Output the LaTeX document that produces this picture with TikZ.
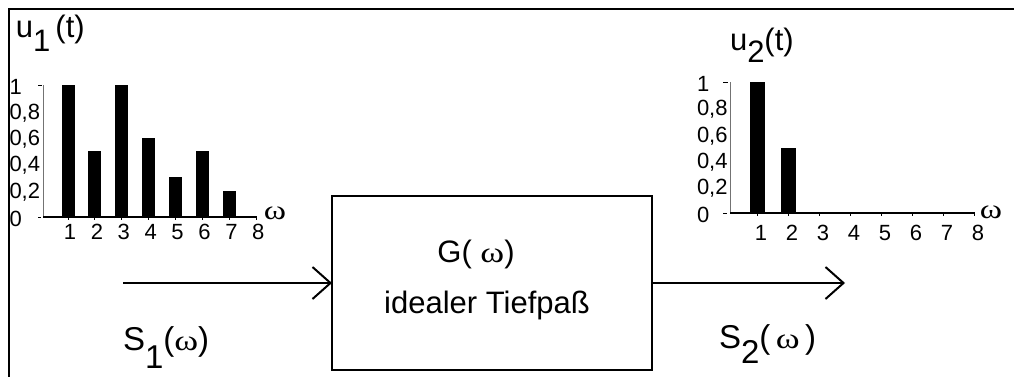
\documentclass[tikz,border=0pt]{standalone}
\usepackage{fontspec}
\setmainfont{Liberation Sans}
\newfontfamily\grk{Liberation Serif}
\newcommand{\wideomega}[1]{{\grk\fontsize{#1}{#1}\selectfont\scalebox{1.25}[1]{ω}}}
\usetikzlibrary{arrows.meta}
\begin{document}
\begin{tikzpicture}[x=1pt,y=-1pt,
  every node/.style={inner sep=0pt, outer sep=0pt},
  frame/.style={line width=2pt},
  bar/.style={fill=black, draw=none},
  yax/.style={draw=black!55, line width=1pt},
  xax/.style={line width=1.3pt},
  tk/.style={line width=0.9pt},
  ticklab/.style={font=\fontsize{22}{22}\selectfont},
  ulab/.style={font=\fontsize{31}{31}\selectfont, anchor=base west},
  slab/.style={font=\fontsize{33}{33}\selectfont, anchor=base west},
  boxtxt/.style={font=\fontsize{31}{31}\selectfont, anchor=base},
  blockbox/.style={draw, line width=2pt, minimum width=320pt, minimum height=174pt},
  signal/.style={line width=2pt, -{Straight Barb[length=18pt,width=32pt,line width=2pt]}},
]
\useasboundingbox (0,0) rectangle (1014,376);
% frame
\draw[frame] (9,377) -- (9,8.5) -- (1015,8.5);

% ---------- chart 1 ----------
\foreach \v [count=\k] in {1,0.5,1,0.6,0.3,0.5,0.2}
  \fill[bar] ({68+26.9*(\k-1)-6.5},217) rectangle ++(13,{-132*\v});
\draw[yax] (43,85) -- (43,217);
\draw[xax] (43,217) -- (257,217);
\foreach \k in {1,...,8} {
  \draw[tk] ({68+26.9*(\k-1)},217) -- ++(0,3);
  \node[ticklab, anchor=north] (xa\k) at ({70+26.9*(\k-1)},224) {\k};
}
\foreach \v/\t [count=\i] in {1/1,0.8/{0,8},0.6/{0,6},0.4/{0,4},0.2/{0,2},0/0}
  \node[ticklab, anchor=west] (ya\i) at (9.5,{217-132*\v+1.5}) {\t};
\draw[tk] (38,85) -- (42,85);
\draw[tk] (38,217) -- (41,217);
\node (wa) at (275,213) {\wideomega{27}};
\node[ulab] (u1) at (16,37) {u\raisebox{-14pt}{1}\hspace{5pt}(t)};

% ---------- chart 2 ----------
\foreach \v [count=\k] in {1,0.5}
  \fill[bar] ({757+31*(\k-1)-7},213) rectangle ++(15,{-131*\v});
\draw[yax] (730,82) -- (730,213);
\draw[xax] (730,213) -- (975,213);
\foreach \k in {1,...,8} {
  \draw[tk] ({757+31*(\k-1)},213) -- ++(0,3);
  \node[ticklab, anchor=north] (xb\k) at ({761+31*(\k-1)},225) {\k};
}
\foreach \v/\t [count=\i] in {1/1,0.8/{0,8},0.6/{0,6},0.4/{0,4},0.2/{0,2},0/0}
  \node[ticklab, anchor=west] (yb\i) at (697,{213-131*\v+1.5}) {\t};
\draw[tk] (723,82) -- (728,82);
\draw[tk] (723,213) -- (727,213);
\node (wb) at (991,212) {\wideomega{27}};
\node[ulab] (u2) at (730,50) {u\raisebox{-12pt}{2}(t)};

% ---------- block ----------
\node[blockbox] (G) at (492,283) {};
\node[boxtxt] (gw) at (476,262) {G( \wideomega{29})};
\node[boxtxt] (tp) at (487,313) {idealer Tiefpaß};

\coordinate (in) at (123,283);
\coordinate (out) at (845,283);
\draw[signal] (in) -- (G.west);
\draw[signal] (G.east) -- (out);

\node[slab] (s1) at (123,350) {S\raisebox{-18pt}{1}(\wideomega{29})};
\node[slab] (s2) at (719,348) {S\raisebox{-15pt}{2}(\,\wideomega{29}\,)};
\end{tikzpicture}
\end{document}
